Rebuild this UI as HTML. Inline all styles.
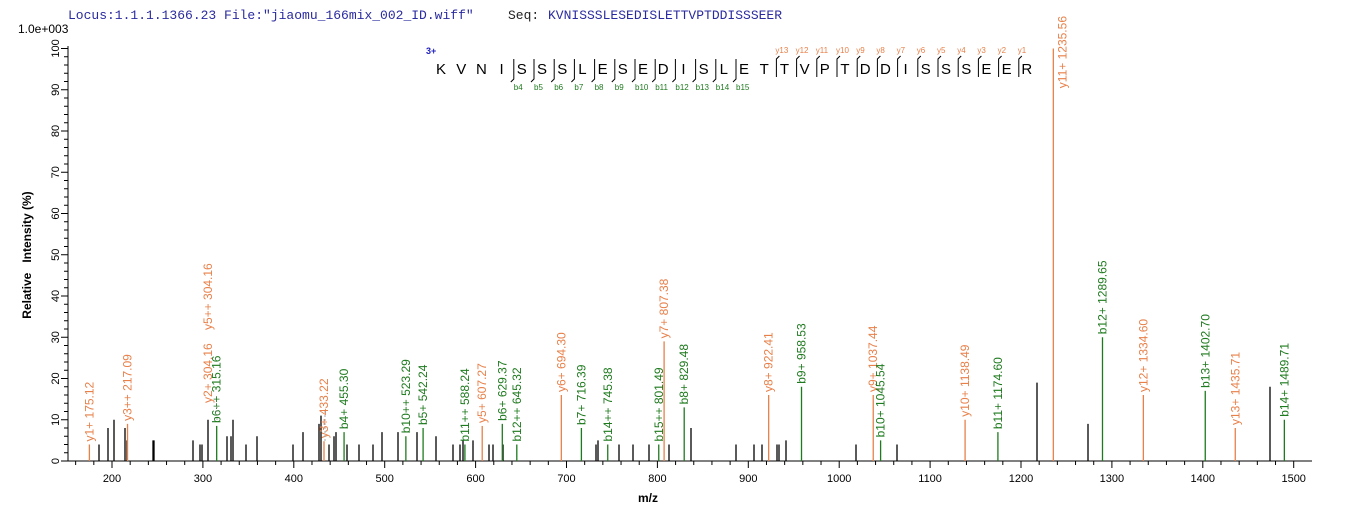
<!DOCTYPE html>
<html><head><meta charset="utf-8"><style>
html,body{margin:0;padding:0;background:#fff;}
svg{display:block;font-family:"Liberation Sans",Arial,sans-serif;}
</style></head><body>
<svg id="s" width="1362" height="520" xmlns="http://www.w3.org/2000/svg">
<text x="68" y="19" font-family="Liberation Mono,monospace" font-size="13" fill="#2a2aa0">Locus:1.1.1.1366.23 File:"jiaomu_166mix_002_ID.wiff"</text>
<text x="508" y="19" font-family="Liberation Mono,monospace" font-size="13" fill="#222">Seq:</text>
<text x="548" y="19" font-family="Liberation Mono,monospace" font-size="13" fill="#2a2aa0">KVNISSSLESEDISLETTVPTDDISSSEER</text>
<text x="18" y="33" font-size="12" fill="#000">1.0e+003</text>
<text transform="translate(31,255) rotate(-90)" text-anchor="middle" font-size="12" font-weight="bold">Relative&#160;&#160;&#160;Intensity (%)</text>
<text x="648" y="502" text-anchor="middle" font-size="12" font-weight="bold">m/z</text>
<g id="g"></g>
</svg>
<script>
var g=document.getElementById('g'),h='';
function X(m){return 112+(m-200)*0.909;}
function Y(p){return 461-p*4.125;}
h+='<line x1="68" y1="461" x2="1312" y2="461" stroke="#000"/>';
h+='<line x1="68" y1="46" x2="68" y2="461" stroke="#000"/>';
for(var p=0;p<=100;p+=2){var y=Y(p),maj=p%10==0;h+='<line x1="'+(maj?61:64)+'" y1="'+y+'" x2="68" y2="'+y+'" stroke="#000"/>';
 if(maj)h+='<text transform="translate(59,'+y+') rotate(-90)" text-anchor="middle" font-size="11">'+p+'</text>';}
for(var m=160;m<=1500;m+=20){var x=X(m),maj=m%100==0;h+='<line x1="'+x+'" y1="461" x2="'+x+'" y2="'+(maj?468:465)+'" stroke="#000"/>';
 if(maj)h+='<text x="'+x+'" y="482" text-anchor="middle" font-size="11">'+m+'</text>';}
var blk=[[99,4],[108,8],[114,10],[125,8],[127,5],[153,5],[154,5],[193,5],[200,4],[202,4],[208,10],[227,6],[231,6],[233,10],[246,4],[257,6],[293,4],[303,7],[319,9],[321,11],[329,4],[334,6],[336,7],[347,4],[359,4],[373,4],[382,7],[398,7],[417,7],[436,6],[453,4],[460,4],[463,5],[473,5],[489,4],[493,4],[503,4],[596,4],[598,5],[619,4],[633,4],[649,4],[669,4],[691,8],[736,4],[754,4],[762,4],[777,4],[779,4],[786,5],[856,4],[897,4],[1037,19],[1088,9],[1270,18]];
blk.forEach(function(b){h+='<line x1="'+b[0]+'" y1="461" x2="'+b[0]+'" y2="'+Y(b[1])+'" stroke="#000" stroke-width="1.3"/>';});
var O='#e8804a',G='#1e7a1e';
var col=[[175.12,4,O,'y1+ 175.12'],[217.09,9,O,'y3++ 217.09'],[315.16,8.5,G,'b6++ 315.16'],[433.22,4.8,O,'y3+ 433.22'],[607.27,8.5,O,'y5+ 607.27'],[694.30,16,O,'y6+ 694.30'],[807.38,29,O,'y7+ 807.38'],[922.41,16,O,'y8+ 922.41'],[1037.44,16,O,'y9+ 1037.44'],[1138.49,10,O,'y10+ 1138.49'],[1235.56,100,O,''],[1334.60,16,O,'y12+ 1334.60'],[1435.71,8,O,'y13+ 1435.71'],
[455.30,7,G,'b4+ 455.30'],[523.29,6,G,'b10++ 523.29'],[542.24,8,G,'b5+ 542.24'],[588.24,4,G,'b11++ 588.24'],[629.37,9,G,'b6+ 629.37'],[645.32,4,G,'b12++ 645.32'],[716.39,8,G,'b7+ 716.39'],[745.38,4,G,'b14++ 745.38'],[801.49,4,G,'b15++ 801.49'],[829.48,13,G,'b8+ 829.48'],[958.53,18,G,'b9+ 958.53'],[1045.54,5,G,'b10+ 1045.54'],[1174.60,7,G,'b11+ 1174.60'],[1289.65,30,G,'b12+ 1289.65'],[1402.70,17,G,'b13+ 1402.70'],[1489.71,10,G,'b14+ 1489.71']];
col.forEach(function(c){var x=X(c[0]),y=Y(c[1]);h+='<line x1="'+x+'" y1="461" x2="'+x+'" y2="'+y+'" stroke="'+c[2]+'" stroke-width="1.3"/>';
 if(c[3])h+='<text transform="translate('+(x+4)+','+(y-3)+') rotate(-90)" font-size="12" fill="'+c[2]+'">'+c[3]+'</text>';});
h+='<text transform="translate('+(X(1235.56)+13)+',16) rotate(-90)" text-anchor="end" font-size="12" fill="'+O+'">y11+ 1235.56</text>';
h+='<line x1="217" y1="420" x2="217" y2="405" stroke="#aaa" stroke-dasharray="2,2"/>';
h+='<text transform="translate(212,403) rotate(-90)" font-size="12" fill="'+O+'">y2+ 304.16</text>';
h+='<text transform="translate(212,330) rotate(-90)" font-size="12" fill="'+O+'">y5++ 304.16</text>';
h+='<line x1="325" y1="441" x2="325" y2="410" stroke="#aaa" stroke-dasharray="2,2"/>';
var seq='KVNISSSLESEDISLETTVPTDDISSSEER'.split(''),x0=441,dx=20.2;
h+='<text x="426" y="54" font-size="9" font-weight="bold" fill="#2020c0">3+</text>';
seq.forEach(function(c,i){var x=x0+i*dx;h+='<text x="'+x+'" y="74" text-anchor="middle" font-size="15">'+c+'</text>';
 if(i>=4&&i<=15){var bx=x-8;h+='<path d="M'+(bx-3)+' 82 L'+bx+' 79 L'+bx+' 59" stroke="#000" fill="none"/><text x="'+(bx)+'" y="90" font-size="8" fill="'+G+'">b'+i+'</text>';}
 if(i>=17){var yx=x-8,n=30-i;h+='<path d="M'+(yx+3)+' 56 L'+yx+' 59 L'+yx+' 77" stroke="#000" fill="none"/><text x="'+(yx-1)+'" y="53" font-size="8" fill="'+O+'">y'+n+'</text>';}
});
g.innerHTML=h;
</script>
</body></html>
